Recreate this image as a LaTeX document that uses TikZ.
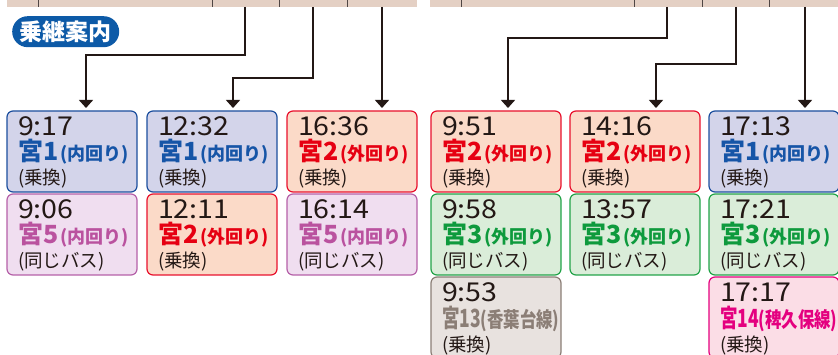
\documentclass[tikz,border=0pt]{standalone}
\usepackage{fontspec}
\usepackage{graphicx}
\setmainfont{Noto Sans CJK JP}
\usetikzlibrary{arrows.meta}
\definecolor{ink}{HTML}{231815}
\definecolor{bar}{HTML}{E4D0C4}
\definecolor{badge}{HTML}{0D5AA7}
\definecolor{bl-fill}{HTML}{D3D4EA}\definecolor{bl-line}{HTML}{1C4F9E}\definecolor{bl-text}{HTML}{1655A7}
\definecolor{rd-fill}{HTML}{FBDAC8}\definecolor{rd-line}{HTML}{E8112D}\definecolor{rd-text}{HTML}{E60012}
\definecolor{pu-fill}{HTML}{F0DEF0}\definecolor{pu-line}{HTML}{B560A8}\definecolor{pu-text}{HTML}{BA529F}
\definecolor{gr-fill}{HTML}{DAEDD9}\definecolor{gr-line}{HTML}{22A348}\definecolor{gr-text}{HTML}{0E9A3D}
\definecolor{gy-fill}{HTML}{E8E2DF}\definecolor{gy-line}{HTML}{8B7E76}\definecolor{gy-text}{HTML}{8B7E76}
\definecolor{pk-fill}{HTML}{FBDDE6}\definecolor{pk-line}{HTML}{E5007E}\definecolor{pk-text}{HTML}{E4007F}
\newcommand\rt[2]{{\bfseries\fontsize{25}{25}\selectfont #1}\hspace{2pt}{\bfseries\fontsize{18}{18}\selectfont (#2)}}
\newcommand\rtc[2]{\scalebox{0.7}[1]{\bfseries\fontsize{25}{25}\selectfont #1}\scalebox{0.78}[1]{\bfseries\fontsize{21}{21}\selectfont (#2)}}
\newcommand\bbox[7]{%
  \node[bx, fill=#4-fill, draw=#4-line, anchor=north west] (#1) at (#2,#3) {};
  \node[txt, text=ink] (#1t) at ([xshift=11pt,yshift=-25pt]#1.north west) {\scalebox{1.1}[1]{\fontsize{26}{26}\selectfont #5}};
  \node[txt, text=#4-text] (#1r) at ([xshift=11pt,yshift=-50pt]#1.north west) {#6};
  \node[txt, text=ink] (#1n) at ([xshift=11pt,yshift=-74pt]#1.north west) {\fontsize{18.5}{18.5}\selectfont #7};
}
\begin{document}
\begin{tikzpicture}[x=1pt,y=-1pt,
  bx/.style={rectangle, rounded corners=6pt, line width=1.2pt, minimum width=130pt, minimum height=81pt, inner sep=0pt, outer sep=0pt},
  txt/.style={anchor=base west, inner sep=0pt, outer sep=0pt},
  conn/.style={draw=ink, line width=1.3pt, -{Triangle[width=14pt,length=8pt]}},
  tick/.style={draw=ink!80, line width=1pt}]
\useasboundingbox (0,0) rectangle (838,355);
\begin{scope}
\clip (0,0) rectangle (838,355);
% top bars
\fill[bar] (7,0) rectangle (417,7);
\fill[bar] (430,0) rectangle (838,7);
\foreach \x in {38,212,279,347,461,634,702,769} \draw[tick] (\x,0) -- (\x,7);
% badge
\node[rectangle, rounded corners=15.5pt, fill=badge, text=white, minimum width=107pt, minimum height=31pt, inner sep=0pt, anchor=north west, font=\bfseries\fontsize{23}{23}\selectfont] (badge) at (12,16) {乗継案内};
% boxes
\bbox{a1}{7}{111}{bl}{9:17}{\rt{宮1}{内回り}}{(乗換)}
\bbox{a2}{7}{194}{pu}{9:06}{\rt{宮5}{内回り}}{(同じバス)}
\bbox{b1}{147}{111}{bl}{12:32}{\rt{宮1}{内回り}}{(乗換)}
\bbox{b2}{147}{194}{rd}{12:11}{\rt{宮2}{外回り}}{(乗換)}
\bbox{c1}{287}{111}{rd}{16:36}{\rt{宮2}{外回り}}{(乗換)}
\bbox{c2}{287}{194}{pu}{16:14}{\rt{宮5}{内回り}}{(同じバス)}
\bbox{d1}{431}{111}{rd}{9:51}{\rt{宮2}{外回り}}{(乗換)}
\bbox{d2}{431}{194}{gr}{9:58}{\rt{宮3}{外回り}}{(同じバス)}
\bbox{d3}{431}{277}{gy}{9:53}{\rtc{宮13}{香葉台線}}{(乗換)}
\bbox{e1}{570}{111}{rd}{14:16}{\rt{宮2}{外回り}}{(乗換)}
\bbox{e2}{570}{194}{gr}{13:57}{\rt{宮3}{外回り}}{(同じバス)}
\bbox{f1}{709}{111}{bl}{17:13}{\rt{宮1}{内回り}}{(乗換)}
\bbox{f2}{709}{194}{gr}{17:21}{\rt{宮3}{外回り}}{(同じバス)}
\bbox{f3}{709}{277}{pk}{17:17}{\rtc{宮14}{稗久保線}}{(乗換)}
% connectors
\coordinate (s1) at (245,7);
\coordinate (s2) at (313,7);
\coordinate (s3) at (382,7);
\coordinate (s4) at (667,7);
\coordinate (s5) at (736,7);
\coordinate (s6) at (805,7);
\draw[conn] (s1) -- ++(0,48) -| ([xshift=79pt,yshift=3pt]a1.north west);
\draw[conn] (s2) -- ++(0,71) -| ([xshift=86pt,yshift=3pt]b1.north west);
\draw[conn] (s3) -- ([xshift=95pt,yshift=3pt]c1.north west);
\draw[conn] (s4) -- ++(0,31) -| ([xshift=77pt,yshift=3pt]d1.north west);
\draw[conn] (s5) -- ++(0,57) -| ([xshift=86pt,yshift=3pt]e1.north west);
\draw[conn] (s6) -- ([xshift=96pt,yshift=3pt]f1.north west);
\end{scope}
\end{tikzpicture}
\end{document}
